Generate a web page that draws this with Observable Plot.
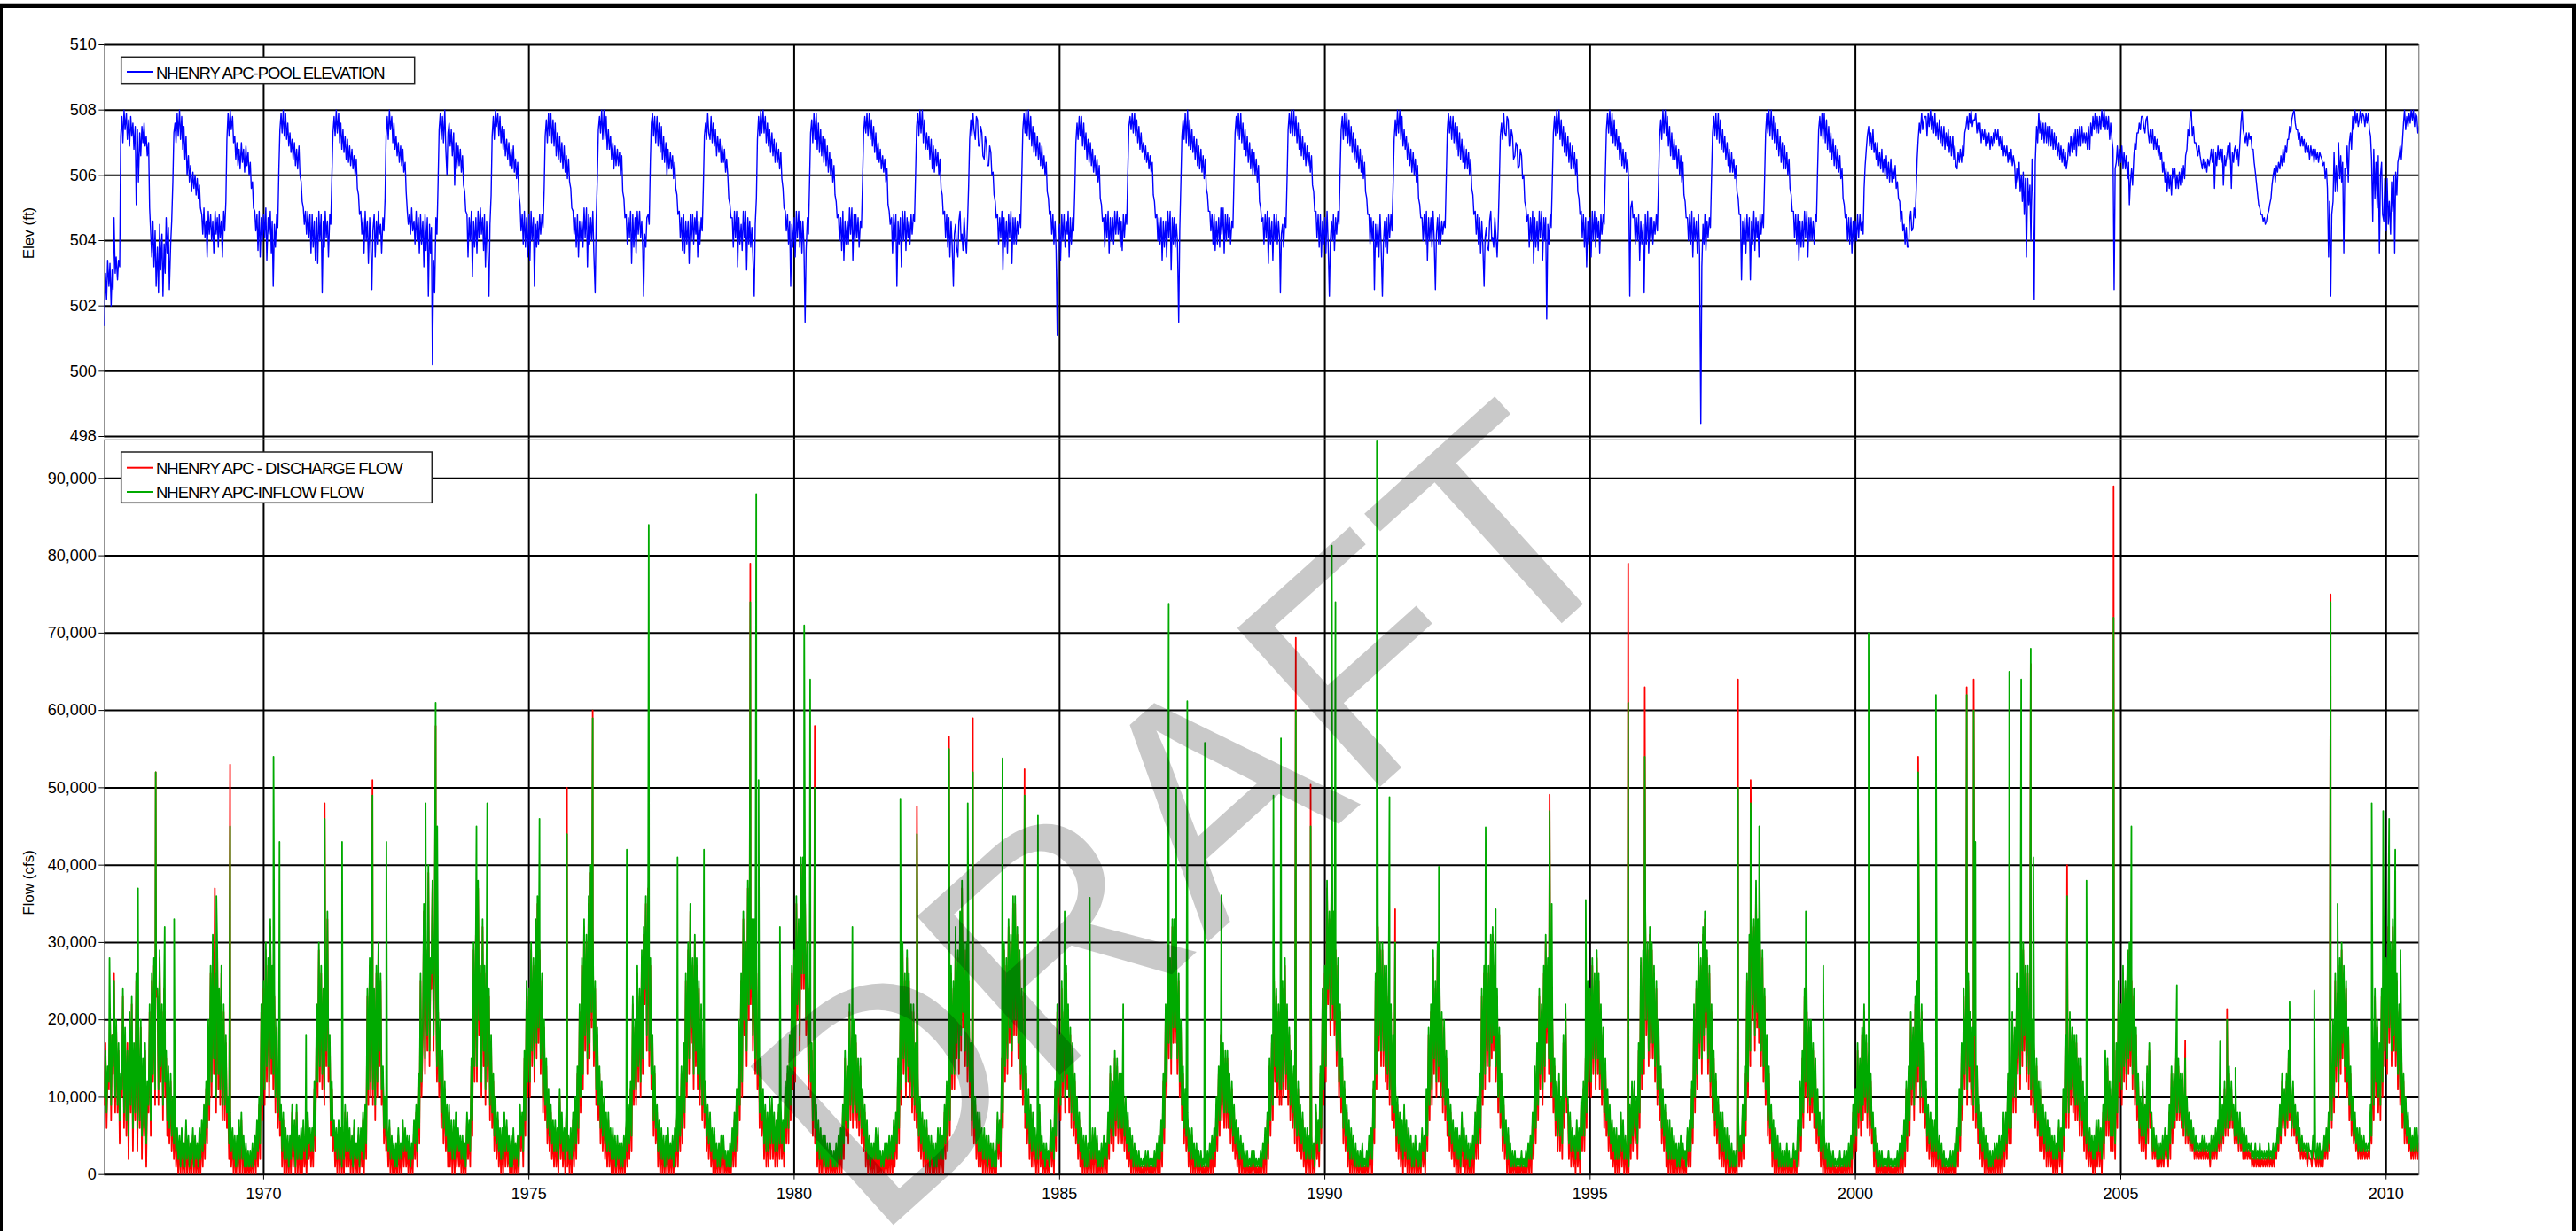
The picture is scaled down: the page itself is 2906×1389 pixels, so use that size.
<!DOCTYPE html>
<html><head><meta charset="utf-8">
<script src="https://cdn.jsdelivr.net/npm/d3@7"></script>
<script src="https://cdn.jsdelivr.net/npm/@observablehq/plot@0.6"></script>
<style>
html,body{margin:0;padding:0;background:#fff;}
body{width:2906px;height:1389px;overflow:hidden;position:relative;font-family:"Liberation Sans",Arial,sans-serif;}
#topline{position:absolute;left:0;top:3px;width:2906px;height:1px;background:#bbb;}
#frame{position:absolute;left:0;top:4px;width:2906px;height:1420px;box-sizing:border-box;border-top:5px solid #000;border-left:3px solid #000;border-right:4px solid #000;}
</style>
</head><body>
<div id="topline"></div><div id="frame"></div>
<div id="charts"></div>
<script>
// ---------------- DATA ----------------
const years = [1967,1968,1969,1970,1971,1972,1973,1974,1975,1976,1977,1978,1979,1980,1981,1982,1983,1984,1985,1986,1987,1988,1989,1990,1991,1992,1993,1994,1995,1996,1997,1998,1999,2000,2001,2002,2003,2004,2005,2006,2007,2008,2009,2010];
const yearTicks = [1970,1975,1980,1985,1990,1995,2000,2005,2010];
const elevTicks = [498,500,502,504,506,508,510];
const flowTicks = [0,10000,20000,30000,40000,50000,60000,70000,80000,90000];
const seriesNames = ["NHENRY APC-POOL ELEVATION","NHENRY APC - DISCHARGE FLOW","NHENRY APC-INFLOW FLOW"];

// Pool elevation (ft), readings on the 1st, 8th, 16th and 23rd of each month
const poolElevation = [
[501.4,503.0,502.2,503.4,502.6,503.3,502.0,503.1,502.5,504.7,503.0,503.5,502.8,503.4,503.2,507.2,507.8,507.0,508.0,507.4,507.9,507.1,507.7,506.9,507.8,507.2,507.6,506.8,507.5,505.1,507.4,505.8,507.3,506.6,507.5,507.0,507.6,506.9,507.2,506.6,507.0,505.0,504.2,503.5,504.6,503.2,504.3,502.6],
[503.8,502.4,504.5,503.1,504.2,502.3,503.9,503.0,504.7,503.6,504.4,502.5,503.9,504.6,505.8,507.3,507.6,507.0,507.9,507.2,508.0,507.1,507.8,506.8,507.5,506.5,507.2,506.0,506.6,505.8,506.3,505.5,506.1,505.6,506.0,505.4,505.9,505.3,505.7,505.0,504.8,504.2,505.0,504.1,504.6,503.5,504.9,504.2],
[504.8,504.0,504.6,503.6,504.9,504.2,504.7,503.8,504.8,504.1,504.6,503.5,504.9,504.3,505.2,507.1,507.9,507.2,508.0,507.4,507.8,507.0,507.2,506.5,507.0,506.3,506.8,506.2,507.0,506.4,506.8,506.1,506.9,506.3,506.7,506.0,506.4,505.6,505.8,505.0,504.9,504.3,504.8,503.7,504.9,503.5,504.7,504.0],
[504.8,504.1,505.0,503.4,504.7,504.2,504.9,503.6,504.6,502.6,504.5,503.8,504.8,504.4,506.2,507.4,507.9,507.3,508.0,507.2,507.9,507.1,507.6,506.9,507.3,506.7,507.1,506.5,507.0,506.3,506.8,506.2,506.9,506.0,505.8,505.2,505.0,504.5,504.9,504.2,504.9,504.1,504.8,503.6,504.8,503.8,504.6,503.4],
[504.7,503.3,504.9,504.0,504.8,502.4,504.6,503.8,504.9,504.1,504.6,503.5,504.8,504.5,506.0,507.3,507.8,507.2,508.0,507.3,507.9,507.0,507.6,506.8,507.4,506.7,507.2,506.5,507.1,506.4,506.9,506.3,506.8,506.2,506.6,506.0,506.5,505.6,505.4,504.8,504.9,504.2,504.7,503.6,504.9,504.0,504.6,503.3],
[504.7,503.9,502.5,504.3,504.8,503.5,504.6,503.9,504.9,504.2,504.5,503.6,504.7,504.3,505.3,507.2,507.8,507.1,508.0,507.4,507.8,507.0,507.6,506.8,507.2,506.6,507.0,506.4,506.9,506.3,506.8,506.1,506.4,505.5,504.9,504.5,504.8,504.2,505.0,504.3,504.6,503.9,504.9,504.0,504.7,503.6,504.8,503.9],
[504.6,503.2,504.8,503.7,504.7,502.3,504.5,503.6,504.4,500.2,503.4,502.4,504.7,504.2,505.8,507.4,507.9,507.1,507.8,507.0,508.0,506.8,506.0,507.3,507.6,506.9,507.4,506.6,507.3,505.7,507.0,506.2,506.9,506.3,506.8,506.1,506.6,505.7,505.5,504.9,504.8,503.5,504.7,504.0,504.9,502.9,504.6,503.8],
[504.7,503.6,504.9,504.1,505.0,504.2,504.7,503.7,504.8,503.2,504.6,503.9,502.3,504.5,505.4,507.2,507.8,507.1,508.0,507.5,507.9,507.2,507.8,507.0,507.5,506.8,507.4,506.6,507.1,506.5,507.0,506.3,506.8,506.2,506.9,506.1,506.5,505.9,506.4,505.5,505.1,504.3,504.8,503.9,504.9,503.8,504.7,503.5],
[504.8,503.4,504.9,504.0,504.7,502.6,504.5,503.8,504.6,503.9,504.8,504.2,504.8,504.4,505.6,507.2,507.7,507.0,507.9,507.2,507.9,507.0,507.7,506.9,507.6,506.6,507.3,506.5,507.2,506.4,507.0,506.2,506.9,506.1,506.6,505.9,506.5,505.8,505.6,505.0,504.9,504.2,504.7,503.8,504.8,503.5,504.6,504.0],
[504.6,503.8,505.0,504.1,505.0,503.2,504.8,503.9,504.7,504.0,504.9,503.6,502.4,504.6,505.9,507.4,507.8,507.3,508.0,507.1,508.0,507.1,507.8,506.8,507.4,506.8,507.2,506.5,507.0,506.2,506.9,506.3,506.8,506.3,506.7,506.0,506.6,505.5,505.3,504.7,504.8,503.9,504.7,504.1,504.9,503.3,504.8,503.8],
[504.7,503.6,504.9,504.2,504.9,504.1,504.6,503.7,502.3,504.2,503.8,504.7,504.8,504.5,506.4,507.6,507.9,507.2,507.8,507.0,507.8,506.9,507.6,506.7,507.5,506.5,507.2,506.4,507.0,506.0,506.8,506.2,506.7,506.2,506.6,505.9,506.4,505.6,505.4,504.8,504.9,504.1,504.7,503.7,504.8,503.6,504.6,503.9],
[504.6,503.3,504.8,504.0,504.8,503.9,504.7,504.2,504.9,503.5,504.6,503.9,504.7,504.3,505.7,507.2,507.6,507.1,507.9,507.3,507.1,507.8,507.0,507.6,506.9,507.4,506.6,507.2,506.7,507.1,506.4,506.9,506.4,506.8,506.1,506.5,506.0,505.3,505.1,504.7,504.7,503.8,504.9,504.1,504.9,503.2,504.7,503.9],
[504.5,503.7,504.9,504.1,504.9,503.1,504.7,503.9,504.6,503.8,504.4,503.5,502.3,504.5,505.3,507.1,507.8,507.2,508.0,507.3,508.0,507.3,507.8,507.0,507.6,506.9,507.4,506.7,507.3,506.6,507.1,506.4,507.0,506.4,506.8,506.2,506.7,505.9,505.6,505.0,504.9,504.3,504.8,503.9,504.6,502.6,504.5,503.8],
[504.7,503.5,504.9,504.1,504.9,503.8,504.6,503.6,504.6,503.9,501.5,503.7,504.7,504.2,505.8,507.3,507.7,507.0,507.9,507.1,507.9,506.8,507.6,506.7,507.4,506.6,507.2,506.4,507.1,506.3,506.9,506.1,506.7,506.0,506.5,505.8,506.3,505.4,505.2,504.7,504.8,504.0,504.7,503.7,504.9,503.4,504.6,503.9],
[504.6,503.9,505.0,504.2,505.0,503.4,504.8,504.0,504.8,504.1,504.7,503.8,504.6,504.4,505.9,507.3,507.8,507.3,507.9,507.2,507.9,507.1,507.7,506.9,507.5,506.7,507.3,506.5,507.0,506.4,506.8,506.2,506.6,506.1,506.5,505.8,506.2,505.1,504.9,504.5,504.7,503.6,504.8,504.0,504.8,502.6,504.6,503.9],
[504.7,503.2,504.9,504.0,504.9,503.7,504.7,504.1,504.6,503.9,504.8,504.2,504.8,504.6,506.1,507.5,507.9,507.2,508.0,507.3,508.0,507.0,507.7,506.8,507.3,506.8,507.2,506.5,507.1,506.2,506.9,506.1,506.8,506.3,506.7,506.0,506.5,505.6,505.4,504.8,504.9,504.1,504.8,503.8,504.7,503.5,504.6,503.9],
[502.6,504.2,504.5,503.8,503.5,504.6,504.9,504.0,504.2,503.7,504.7,504.1,503.6,504.5,505.7,507.1,507.7,507.2,507.9,507.4,507.1,507.8,507.7,506.9,506.9,507.5,507.3,506.6,506.5,507.2,507.0,506.3,506.3,506.9,506.7,506.0,506.1,505.4,505.2,504.7,504.8,503.9,504.7,504.1,504.9,503.1,504.7,503.8],
[504.6,503.6,504.8,504.1,504.9,503.3,504.7,503.9,504.7,503.9,504.6,504.2,504.8,504.4,506.0,507.4,507.9,507.3,508.0,507.2,508.0,507.1,507.8,506.9,507.5,506.7,507.3,506.6,507.2,506.5,507.0,506.3,506.9,506.2,506.6,506.0,506.4,505.5,505.3,504.8,504.9,504.2,504.8,503.9,504.6,503.7,501.1,504.2],
[504.5,503.4,504.8,504.0,504.8,503.8,504.6,504.2,504.9,503.5,504.7,503.9,504.7,504.3,505.6,507.0,507.6,507.1,507.8,507.2,507.8,506.9,507.6,506.8,507.3,506.5,507.1,506.4,507.0,506.3,506.8,506.1,506.6,506.0,506.5,505.8,506.3,505.3,505.1,504.6,504.7,503.8,504.8,504.1,504.9,503.6,504.7,504.0],
[504.7,503.9,504.9,504.2,504.9,504.2,504.7,503.8,504.6,503.7,504.8,504.1,504.8,504.5,506.2,507.5,507.8,507.4,507.9,507.3,507.9,507.2,507.7,507.0,507.5,506.8,507.3,506.7,507.0,506.5,506.9,506.4,506.7,506.2,506.6,506.1,506.4,505.4,505.2,504.7,504.8,504.0,504.7,503.9,504.7,503.4,504.6,503.8],
[504.6,503.5,504.9,504.1,504.9,503.1,504.7,503.9,504.7,503.8,504.5,504.0,501.5,504.3,505.8,507.2,507.7,507.1,507.9,507.0,508.0,506.9,507.7,506.8,507.4,506.7,507.2,506.5,507.1,506.3,506.9,506.2,506.8,506.1,506.6,505.9,506.5,505.6,505.4,504.9,504.9,504.3,504.8,503.9,504.8,503.7,504.6,503.9],
[504.7,503.8,505.0,504.2,505.0,503.6,504.8,504.0,504.8,504.1,504.7,503.9,504.6,504.4,506.0,507.3,507.8,507.2,507.9,507.1,507.9,507.0,507.6,506.8,507.4,506.6,507.2,506.4,507.0,506.2,506.8,506.0,506.7,506.0,506.5,505.8,506.3,505.2,505.0,504.6,504.7,503.9,504.8,504.1,504.9,503.3,504.7,503.9],
[504.6,503.4,504.8,504.0,504.8,503.9,504.6,504.1,502.4,504.2,504.5,503.8,504.7,504.4,505.9,507.4,507.9,507.3,508.0,507.2,508.0,507.2,507.8,507.0,507.6,506.8,507.4,506.6,507.2,506.5,507.0,506.3,506.9,506.3,506.7,506.1,506.6,505.7,505.5,504.9,504.9,504.1,504.8,503.8,504.8,503.5,504.6,503.9],
[504.7,503.6,504.9,504.0,502.3,504.0,504.6,504.0,504.8,503.7,504.7,504.2,504.9,504.5,506.1,507.4,507.8,507.1,507.9,507.2,507.9,507.0,507.7,506.9,507.5,506.7,507.3,506.5,507.1,506.4,506.9,506.2,506.8,506.1,506.6,505.9,506.4,505.5,505.3,504.8,504.8,503.9,504.7,504.0,504.6,502.5,504.5,503.8],
[504.5,503.5,504.8,503.9,502.3,503.9,504.6,503.8,504.7,503.6,504.8,504.1,504.8,504.3,505.7,507.1,507.7,507.2,508.0,507.3,508.0,507.1,507.8,506.9,507.4,506.8,507.2,506.5,507.0,506.3,506.8,506.1,506.7,506.0,506.5,505.8,506.3,505.3,505.1,504.7,504.7,504.0,504.8,503.9,504.9,503.4,504.7,504.0],
[504.7,503.8,504.9,504.1,502.5,504.2,504.7,503.9,504.8,503.9,504.6,504.2,504.6,504.4,506.0,507.4,507.9,507.3,507.8,507.1,507.8,507.0,507.6,506.8,507.5,506.6,507.3,506.5,507.1,506.4,506.9,506.2,506.8,506.2,506.7,506.0,506.5,505.6,505.4,504.8,504.9,504.2,504.8,503.9,504.7,503.6,504.6,503.9],
[502.6,504.1,504.4,503.8,503.7,504.6,504.9,504.0,504.1,503.8,504.7,504.2,503.5,504.4,505.8,507.2,507.6,507.1,507.9,507.3,507.2,507.8,507.7,506.9,506.9,507.4,507.2,506.5,506.6,507.0,506.9,506.2,506.3,506.8,506.6,505.9,506.0,505.2,505.0,504.6,504.8,503.8,504.7,504.0,504.9,503.3,504.7,503.8],
[504.6,503.7,504.9,504.1,504.9,503.4,504.7,504.0,504.7,501.6,504.5,503.9,504.8,504.4,505.9,507.3,507.8,507.2,508.0,507.3,508.0,507.1,507.7,506.9,507.5,506.7,507.3,506.6,507.2,506.4,507.0,506.2,506.9,506.2,506.7,506.0,506.5,505.5,505.3,504.8,504.9,504.1,504.8,503.8,504.7,503.2,504.6,503.9],
[504.7,503.5,504.9,504.0,504.9,503.8,504.7,504.1,504.6,503.6,504.8,504.2,504.8,504.5,506.1,507.4,507.9,507.3,508.0,507.2,507.9,507.0,507.7,506.9,507.4,506.8,507.2,506.5,507.0,506.3,506.8,506.2,506.7,506.1,506.5,505.8,502.3,505.0,505.2,504.7,504.8,503.9,504.7,504.0,504.8,503.4,504.6,503.9],
[504.5,502.4,504.8,503.9,504.9,503.6,504.7,504.0,504.7,503.9,504.6,504.2,504.8,504.3,505.8,507.2,507.7,507.1,508.0,507.3,508.0,507.2,507.8,506.9,507.5,506.6,507.3,506.5,507.1,506.5,506.9,506.2,506.8,506.0,506.6,505.8,506.4,505.4,505.2,504.7,504.7,504.0,504.8,503.9,504.9,503.5,504.7,504.0],
[504.6,503.6,504.8,503.7,498.4,503.2,504.5,503.9,504.8,503.7,504.6,504.1,504.7,504.4,506.0,507.3,507.8,507.2,507.9,507.1,507.9,507.0,507.7,506.8,507.4,506.7,507.2,506.5,507.0,506.3,506.8,506.1,506.7,506.1,506.5,505.9,506.3,505.5,505.3,504.8,504.8,502.8,504.6,503.9,504.7,503.6,504.8,504.0],
[504.7,502.8,504.6,503.9,504.9,503.7,504.7,504.1,504.6,503.5,504.8,504.2,504.8,504.4,505.9,507.3,507.9,507.3,508.0,507.2,508.0,507.1,507.8,507.0,507.6,506.8,507.4,506.6,507.2,506.4,507.0,506.2,506.9,506.2,506.7,506.0,506.5,505.6,505.4,504.9,504.9,504.1,504.8,503.9,504.8,503.4,504.6,503.8],
[504.6,503.8,504.9,504.1,504.9,503.5,504.7,504.0,504.7,504.0,504.6,503.9,504.8,504.6,506.2,507.4,507.8,507.2,507.9,507.1,507.9,507.0,507.7,506.8,507.5,506.7,507.3,506.5,507.1,506.3,506.9,506.2,506.8,506.1,506.6,505.9,506.2,505.3,505.1,504.7,504.8,504.0,504.7,503.9,504.7,503.6,504.6,503.9],
[504.6,504.0,504.8,504.1,504.8,504.3,504.6,504.2,505.6,506.3,506.8,507.2,507.5,506.9,507.3,506.8,507.4,506.7,507.0,506.5,507.0,506.3,506.7,506.2,506.8,506.1,506.5,506.0,506.6,505.9,506.4,505.8,506.5,505.8,506.2,505.9,506.3,505.6,505.8,505.3,505.2,504.6,504.9,504.3,504.5,503.9,504.4,503.8],
[503.8,504.6,504.9,504.3,504.4,505.0,504.7,505.6,506.5,507.1,507.6,507.3,507.9,507.4,507.7,507.8,507.8,507.2,507.9,507.5,508.0,507.4,507.8,507.3,507.9,507.2,507.6,507.1,507.7,507.0,507.5,506.9,507.5,506.8,507.3,506.9,507.4,506.7,507.2,506.6,507.2,506.5,506.9,506.3,506.2,506.7,506.4,506.8],
[506.4,506.9,506.6,507.3,507.5,507.8,507.4,507.9,507.6,508.0,507.5,507.7,507.7,507.9,507.3,507.6,507.3,507.6,507.0,507.4,507.1,507.4,506.9,507.3,507.0,507.3,506.8,507.2,506.9,507.3,507.0,507.4,507.1,507.4,506.9,507.2,506.8,507.2,506.6,506.9,506.6,506.9,506.4,506.7,506.4,506.8,506.3,506.6],
[506.3,505.6,506.2,505.8,506.4,505.5,506.0,505.2,506.1,504.8,505.9,503.5,505.9,505.1,505.7,504.0,506.5,505.3,502.2,506.4,507.5,507.0,507.9,507.3,507.7,507.1,507.6,507.0,507.6,507.0,507.5,506.9,507.5,506.9,507.4,506.8,507.3,506.8,507.2,506.6,507.0,506.5,506.9,506.4,506.8,506.3,506.7,506.2],
[506.5,507.0,506.6,507.2,506.7,507.3,506.8,507.4,506.6,507.4,506.9,507.5,506.9,507.5,507.0,507.3,507.0,507.3,506.8,507.5,506.8,507.6,507.2,507.8,507.4,507.9,507.3,507.8,507.3,507.8,507.4,508.0,507.5,508.0,507.4,507.8,507.4,507.8,507.1,507.6,507.1,506.8,502.5,506.2,506.4,506.9,506.3,506.8],
[506.4,506.9,506.2,506.7,506.2,506.6,505.9,506.4,505.1,505.8,506.2,505.7,506.6,507.0,506.8,507.3,507.3,507.6,507.4,507.8,507.8,507.5,507.3,507.7,507.8,507.3,507.0,507.4,507.0,507.4,506.8,507.2,506.8,507.1,506.6,506.9,506.5,506.7,506.1,506.4,505.8,506.2,505.5,506.1,505.6,506.0,505.4,506.2],
[505.9,506.2,505.6,506.0,505.6,506.1,505.7,506.2,505.8,506.3,505.9,506.6,506.8,507.4,507.2,507.8,508.0,507.2,507.5,507.0,507.0,506.8,506.6,506.9,506.6,506.4,506.2,506.5,506.2,506.4,506.1,506.5,506.3,506.5,506.8,506.4,506.8,505.6,506.7,506.3,506.9,506.5,506.8,506.4,506.8,505.7,506.6,506.3],
[506.6,506.9,506.5,507.0,505.6,506.7,506.4,506.8,506.9,506.5,506.8,506.3,507.0,507.6,508.0,507.4,507.2,507.0,507.3,506.9,507.3,507.1,507.2,506.8,506.8,506.4,506.1,505.8,505.4,505.1,505.0,504.8,504.8,504.6,504.7,504.5,504.6,504.8,504.9,505.1,505.3,505.7,506.0,506.2,505.8,506.3,506.1,506.4],
[506.2,506.6,506.3,506.8,506.4,506.9,506.7,507.1,507.1,507.5,507.3,507.7,507.9,508.0,507.6,507.4,507.4,507.1,507.3,506.9,507.2,506.9,507.1,506.7,507.0,506.7,506.9,506.5,506.9,506.6,506.8,506.4,506.8,506.5,506.7,506.4,506.7,506.6,506.5,506.3,506.4,505.9,506.2,505.6,503.5,505.2,502.3,504.8],
[505.2,506.7,505.5,506.3,505.5,507.0,505.9,506.6,505.8,506.4,503.6,506.2,506.2,506.9,505.8,507.0,507.3,506.8,507.8,507.4,508.0,507.6,507.9,507.5,507.7,508.0,507.6,507.9,507.8,507.5,507.9,507.6,507.9,507.4,507.2,506.5,504.6,506.8,505.3,506.4,505.0,506.6,503.6,506.0,506.4,504.8,504.6,505.9],
[504.3,505.9,504.5,505.2,504.2,505.8,504.9,506.0,503.6,506.1,505.4,506.4,506.6,506.9,506.5,507.0,507.6,508.0,507.4,507.8,507.5,507.9,507.6,508.0,507.7,508.0,507.5,507.9,507.8,507.3,507.5,507.3]
];

// Inflow (thousand cfs), readings on the 1st, 8th, 16th and 23rd of each month
const inflowKcfs = [
[10,16,8,14,12,22,9,18,14,25,10,20,9,17,7,13,11,24,8,19,7,16,5,21,9,23,6,17,8,26,6,18,7,20,5,15,6,17,4,12,9,22,7,26,13,28,11,24],
[24,11,29,14,22,9,25,12,16,7,14,6,13,5,10,4,8,3,6,2,5,1,6,2,4,1,7,2,5,1,4,2,6,1,5,2,4,1,6,2,7,3,9,4,12,6,20,9],
[27,12,31,15,26,10,29,13,24,11,27,9,22,9,18,8,10,4,8,3,6,2,5,1,5,1,7,2,8,2,5,1,4,1,3,1,3,1,4,1,5,2,7,3,10,4,22,9],
[25,11,30,14,28,12,33,15,27,13,24,10,20,8,14,7,9,3,8,2,6,2,5,1,5,2,9,3,7,1,9,2,5,2,6,2,7,3,5,2,8,4,6,3,6,3,12,5],
[22,12,30,14,27,13,24,11,28,16,34,14,18,7,12,5,7,3,6,2,7,2,6,1,5,2,9,3,8,3,6,2,5,1,7,2,4,2,6,1,6,3,8,2,9,4,24,11],
[28,12,25,11,24,9,27,12,30,16,26,11,14,6,10,5,6,3,7,2,5,2,4,1,4,1,6,2,4,2,7,3,6,3,5,2,5,1,4,2,7,4,9,3,13,6,26,12],
[20,35,15,30,18,40,16,28,26,38,18,32,26,14,22,12,20,8,16,6,12,5,9,3,9,3,7,2,7,2,8,3,6,3,5,2,5,2,4,1,8,4,7,3,15,7,30,14],
[32,14,38,20,27,12,33,16,27,11,30,14,24,9,18,8,13,5,10,4,8,3,6,2,6,2,8,3,7,3,5,1,5,1,6,2,4,2,5,1,9,5,8,3,16,7,25,12],
[24,12,30,16,28,14,33,17,36,19,30,15,26,10,20,9,15,6,11,5,9,4,7,3,7,3,6,2,11,4,8,3,6,2,9,3,5,2,6,2,8,3,10,4,14,6,22,10],
[28,13,33,18,31,15,36,17,40,21,32,16,25,11,19,9,14,6,12,5,10,4,8,3,8,3,6,2,6,2,5,1,5,2,4,1,4,1,5,2,7,3,9,4,12,5,23,11],
[20,11,27,14,24,12,29,15,32,24,36,18,38,16,28,13,18,7,14,6,9,3,7,2,6,2,5,1,5,1,6,2,4,2,5,1,6,3,8,3,10,5,14,6,17,8,26,12],
[30,15,35,19,28,13,31,16,28,13,25,11,22,9,17,8,12,5,9,4,8,3,6,2,6,2,4,1,4,1,5,2,5,2,3,1,3,1,4,1,6,3,8,3,11,5,20,9],
[26,12,34,20,30,16,38,22,38,24,33,18,33,15,27,13,19,8,15,7,11,4,9,3,8,3,10,4,10,4,8,3,7,3,9,4,9,4,7,3,12,6,14,6,18,9,27,13],
[29,14,36,22,33,18,41,26,41,26,36,20,30,13,25,12,17,7,14,6,9,3,7,2,6,2,5,1,5,1,4,1,4,2,3,1,3,1,4,1,5,2,6,2,9,4,16,7],
[14,6,22,9,18,8,20,9,18,8,15,7,15,6,11,5,9,3,7,2,5,1,4,2,4,2,6,2,6,2,3,1,3,1,4,2,4,2,5,2,5,2,7,3,8,4,15,6],
[21,11,30,15,26,12,29,14,26,12,22,10,22,9,17,8,13,5,10,4,8,3,7,2,7,2,5,1,5,2,4,1,4,1,6,2,6,2,5,2,9,4,12,5,15,7,27,13],
[25,13,32,17,29,15,34,18,38,21,30,16,30,14,26,12,17,7,14,6,10,4,8,3,8,3,6,2,6,2,5,1,5,2,4,1,4,1,3,1,8,4,7,3,16,8,30,14],
[28,15,33,19,31,16,36,20,36,20,32,17,29,13,24,11,18,8,14,6,11,4,9,3,8,3,6,2,6,2,9,3,5,2,4,1,4,2,3,1,7,3,6,2,12,5,22,10],
[18,9,25,12,22,10,27,13,22,10,19,8,17,7,13,6,10,4,8,3,6,2,5,1,5,1,4,1,4,2,6,2,6,2,5,1,3,1,4,1,5,2,4,2,8,4,14,6],
[12,5,16,7,15,6,13,6,13,6,11,5,10,4,8,3,6,2,5,1,4,1,3,1,3,1,2,1,2,1,3,1,3,1,2,1,2,1,3,1,4,2,5,2,7,3,13,6],
[22,12,30,17,28,15,33,19,33,19,28,15,26,12,20,9,14,6,11,5,8,3,6,2,6,2,4,1,4,1,3,1,3,1,2,1,2,1,3,1,4,2,5,2,6,3,10,5],
[14,7,19,9,17,8,16,8,16,8,13,6,12,5,9,4,7,3,6,2,5,2,4,1,3,1,3,1,2,1,3,1,3,1,2,1,2,1,3,1,4,2,6,2,8,4,15,7],
[18,9,26,14,24,12,22,11,22,11,25,12,28,13,22,11,19,9,16,8,14,6,12,5,12,5,9,4,8,3,6,2,6,2,5,2,5,2,4,1,9,4,7,3,14,6,24,11],
[27,14,38,24,34,20,40,22,34,20,30,16,28,12,22,10,15,6,12,5,9,3,7,2,6,2,5,1,4,1,3,1,3,1,4,1,2,1,3,1,5,2,6,2,12,6,26,13],
[33,18,30,16,30,16,27,14,27,13,24,11,22,9,18,8,12,5,10,4,8,3,7,2,9,3,7,2,6,2,5,1,4,1,5,2,3,1,4,1,6,3,5,2,11,5,19,9],
[22,11,29,15,25,12,30,14,25,12,21,10,20,9,16,7,11,5,9,4,7,3,6,2,6,2,5,1,8,3,6,2,5,2,4,1,4,2,5,2,8,4,10,4,13,6,24,11],
[27,13,30,16,27,14,31,17,32,18,28,14,24,10,19,8,13,5,10,4,7,2,6,2,4,1,3,1,3,1,2,1,2,1,3,1,2,1,3,1,4,2,5,2,8,4,14,6],
[17,9,24,13,22,11,27,14,31,19,28,15,26,12,21,10,15,7,12,5,13,5,10,4,18,8,22,10,10,4,8,3,6,3,5,2,7,3,6,2,10,5,12,5,16,8,25,12],
[24,12,28,15,26,13,29,15,26,13,22,11,19,8,15,7,11,5,9,4,7,3,6,2,6,2,5,2,8,3,7,2,5,2,4,1,9,4,12,5,12,6,10,4,17,8,28,13],
[29,15,34,20,30,16,32,17,30,17,27,14,25,11,20,9,14,6,11,5,9,3,7,2,7,2,6,2,5,2,4,1,4,1,5,2,4,2,3,1,6,3,7,3,12,6,22,10],
[25,13,30,17,28,15,32,18,34,21,29,15,27,12,22,10,16,7,13,6,10,4,8,3,8,3,6,2,6,2,5,1,4,1,3,1,3,1,8,3,5,3,9,4,14,7,26,12],
[31,16,36,22,33,18,38,21,33,19,30,16,29,14,24,11,18,7,14,6,9,3,7,2,6,2,5,1,4,1,3,1,3,1,4,1,3,1,2,1,4,2,3,1,7,3,12,5],
[16,8,24,12,22,10,20,9,20,10,17,8,15,6,11,5,8,3,7,2,5,2,4,1,4,1,3,1,3,1,2,1,2,1,3,1,2,1,3,1,3,1,4,1,5,2,9,4],
[11,5,17,8,15,7,19,9,22,10,18,8,16,7,13,6,8,3,6,2,4,1,3,1,3,1,2,1,2,1,3,1,2,1,2,1,2,1,3,1,4,2,5,2,7,3,12,5],
[14,7,21,11,19,9,23,12,25,14,21,10,22,10,17,8,12,5,9,4,8,3,7,3,7,3,6,2,5,2,4,1,3,1,2,1,2,1,3,1,3,1,4,1,6,3,11,5],
[17,9,24,13,22,11,26,14,21,11,19,9,18,8,14,6,10,4,8,3,6,2,5,2,4,1,3,1,3,1,4,2,4,2,5,2,5,2,8,3,8,4,13,6,13,6,21,10],
[19,10,26,15,24,13,30,16,30,18,27,14,27,13,22,11,20,10,17,8,15,7,12,5,12,5,9,4,8,3,7,3,6,3,5,2,5,2,4,2,7,3,6,2,11,5,18,8],
[16,8,21,11,19,10,18,9,18,9,15,7,15,7,12,5,10,4,8,3,6,3,5,2,5,2,7,3,7,3,6,2,9,4,16,7,15,7,12,5,12,5,10,4,17,8,25,12],
[22,11,27,14,25,13,29,15,30,16,26,13,24,11,19,9,13,6,10,5,12,5,9,4,14,6,17,8,8,3,6,3,5,2,4,2,4,2,5,2,6,3,5,2,9,4,14,6],
[13,7,16,8,15,8,13,7,13,6,11,5,10,5,8,4,7,4,6,3,5,3,4,3,4,3,5,3,5,3,4,3,4,2,5,3,5,3,6,3,7,4,8,4,9,5,12,6],
[11,6,14,7,12,7,9,5,9,5,8,4,8,4,6,3,6,3,5,3,4,3,4,2,3,2,4,2,3,2,4,2,3,2,3,2,3,2,4,2,3,2,4,2,4,3,6,4],
[9,5,13,7,11,6,13,7,16,8,12,6,12,6,9,5,8,4,6,3,5,3,4,3,4,2,4,3,3,2,5,3,3,2,4,2,4,2,3,2,5,3,6,3,8,4,15,7],
[20,10,26,14,24,12,28,15,30,17,27,14,25,12,19,9,14,7,10,5,8,4,6,3,6,3,5,3,5,3,4,3,4,3,9,5,18,9,24,12,20,10,17,9,24,12,32,16],
[28,15,33,19,30,16,33,18,30,16,26,13,22,11,17,8,13,6,10,5,8,4,6,3,5,3,6,3,6,3,5,4]
];

// Discharge (thousand cfs), readings on the same days
const dischargeKcfs = [
[9,17,6,13,11,21,7,18,13,26,8,19,8,16,4,12,10,23,6,18,5,17,2,20,8,22,3,16,7,25,3,17,6,19,2,14,5,16,1,11,8,21,5,25,12,27,9,23],
[23,9,28,12,21,7,24,10,15,5,13,4,12,3,9,2,7,1,5,0,4,0,5,0,3,0,6,0,4,0,3,0,5,0,4,0,3,0,5,0,6,1,8,2,11,4,19,7],
[26,10,30,13,25,8,28,11,23,9,26,7,21,7,17,6,9,2,7,1,5,0,4,0,4,0,6,0,7,0,4,0,3,0,2,0,2,0,3,0,4,0,6,1,9,2,21,7],
[24,9,29,12,27,10,32,13,26,11,23,8,19,6,13,5,8,1,7,0,5,0,4,0,4,0,8,1,6,0,8,0,4,0,5,0,6,1,4,0,7,2,5,1,5,1,11,3],
[21,10,29,12,26,11,23,9,27,14,33,12,17,5,11,3,6,1,5,0,6,0,5,0,4,0,8,1,7,1,5,0,4,0,6,0,3,0,5,0,5,1,7,0,8,2,23,9],
[27,10,24,9,23,7,26,10,29,14,25,9,13,4,9,3,5,1,6,0,4,0,3,0,3,0,5,0,3,0,6,1,5,1,4,0,4,0,3,0,6,2,8,1,12,4,25,10],
[18,34,13,29,16,39,14,27,24,37,16,31,25,12,21,10,19,6,15,4,11,3,8,1,8,1,6,0,6,0,7,1,5,1,4,0,4,0,3,0,7,2,6,1,14,5,29,12],
[31,12,37,18,26,10,32,14,26,9,29,12,23,7,17,6,12,3,9,2,7,1,5,0,5,0,7,1,6,1,4,0,4,0,5,0,3,0,4,0,8,3,7,1,15,5,24,10],
[23,10,29,14,27,12,32,15,35,17,29,13,25,8,19,7,14,4,10,3,8,2,6,1,6,1,5,0,10,2,7,1,5,0,8,1,4,0,5,0,7,1,9,2,13,4,21,8],
[27,11,32,16,30,13,35,15,39,19,31,14,24,9,18,7,13,4,11,3,9,2,7,1,7,1,5,0,5,0,4,0,4,0,3,0,3,0,4,0,6,1,8,2,11,3,22,9],
[19,9,26,12,23,10,28,13,31,22,35,16,37,14,27,11,17,5,13,4,8,1,6,0,5,0,4,0,4,0,5,0,3,0,4,0,5,1,7,1,9,3,13,4,16,6,25,10],
[29,13,34,17,27,11,30,14,27,11,24,9,21,7,16,6,11,3,8,2,7,1,5,0,5,0,3,0,3,0,4,0,4,0,2,0,2,0,3,0,5,1,7,1,10,3,19,7],
[25,10,33,18,29,14,37,20,37,22,32,16,32,13,26,11,18,6,14,5,10,2,8,1,7,1,9,2,9,2,7,1,6,1,8,2,8,2,6,1,11,4,13,4,17,7,26,11],
[28,12,35,20,32,16,40,24,40,24,35,18,29,11,24,10,16,5,13,4,8,1,6,0,5,0,4,0,4,0,3,0,3,0,2,0,2,0,3,0,4,0,5,0,8,2,15,5],
[13,4,21,7,17,6,19,7,17,6,14,5,14,4,10,3,8,1,6,0,4,0,3,0,3,0,5,0,5,0,2,0,2,0,3,0,3,0,4,0,4,0,6,1,7,2,14,4],
[20,9,29,13,25,10,28,12,25,10,21,8,21,7,16,6,12,3,9,2,7,1,6,0,6,0,4,0,4,0,3,0,3,0,5,0,5,0,4,0,8,2,11,3,14,5,26,11],
[24,11,31,15,28,13,33,16,37,19,29,14,29,12,25,10,16,5,13,4,9,2,7,1,7,1,5,0,5,0,4,0,4,0,3,0,3,0,2,0,7,2,6,1,15,6,29,12],
[27,13,32,17,30,14,35,18,35,18,31,15,28,11,23,9,17,6,13,4,10,2,8,1,7,1,5,0,5,0,8,1,4,0,3,0,3,0,2,0,6,1,5,0,11,3,21,8],
[17,7,24,10,21,8,26,11,21,8,18,6,16,5,12,4,9,2,7,1,5,0,4,0,4,0,3,0,3,0,5,0,5,0,4,0,2,0,3,0,4,0,3,0,7,2,13,4],
[11,3,15,5,14,4,12,4,12,4,10,3,9,2,7,1,5,0,4,0,3,0,2,0,2,0,1,0,1,0,2,0,2,0,1,0,1,0,2,0,3,0,4,0,6,1,12,4],
[21,10,29,15,27,13,32,17,32,17,27,13,25,10,19,7,13,4,10,3,7,1,5,0,5,0,3,0,3,0,2,0,2,0,1,0,1,0,2,0,3,0,4,0,5,1,9,3],
[13,5,18,7,16,6,15,6,15,6,12,4,11,3,8,2,6,1,5,0,4,0,3,0,2,0,2,0,1,0,2,0,2,0,1,0,1,0,2,0,3,0,5,0,7,2,14,5],
[17,7,25,12,23,10,21,9,21,9,24,10,27,11,21,9,18,7,15,6,13,4,11,3,11,3,8,2,7,1,5,0,5,0,4,0,4,0,3,0,8,2,6,1,13,4,23,9],
[26,12,37,22,33,18,39,20,33,18,29,14,27,10,21,8,14,4,11,3,8,1,6,0,5,0,4,0,3,0,2,0,2,0,3,0,1,0,2,0,4,0,5,0,11,4,25,11],
[32,16,29,14,29,14,26,12,26,11,23,9,21,7,17,6,11,3,9,2,7,1,6,0,8,1,6,0,5,0,4,0,3,0,4,0,2,0,3,0,5,1,4,0,10,3,18,7],
[21,9,28,13,24,10,29,12,24,10,20,8,19,7,15,5,10,3,8,2,6,1,5,0,5,0,4,0,7,1,5,0,4,0,3,0,3,0,4,0,7,2,9,2,12,4,23,9],
[26,11,29,14,26,12,30,15,31,16,27,12,23,8,18,6,12,3,9,2,6,0,5,0,3,0,2,0,2,0,1,0,1,0,2,0,1,0,2,0,3,0,4,0,7,2,13,4],
[16,7,23,11,21,9,26,12,30,17,27,13,25,10,20,8,14,5,11,3,12,3,9,2,17,6,21,8,9,2,7,1,5,1,4,0,6,1,5,0,9,3,11,3,15,6,24,10],
[23,10,27,13,25,11,28,13,25,11,21,9,18,6,14,5,10,3,8,2,6,1,5,0,5,0,4,0,7,1,6,0,4,0,3,0,8,2,11,3,11,4,9,2,16,6,27,11],
[28,13,33,18,29,14,31,15,29,15,26,12,24,9,19,7,13,4,10,3,8,1,6,0,6,0,5,0,4,0,3,0,3,0,4,0,3,0,2,0,5,1,6,1,11,4,21,8],
[24,11,29,15,27,13,31,16,33,19,28,13,26,10,21,8,15,5,12,4,9,2,7,1,7,1,5,0,5,0,4,0,3,0,2,0,2,0,7,1,4,1,8,2,13,5,25,10],
[30,14,35,20,32,16,37,19,32,17,29,14,28,12,23,9,17,5,13,4,8,1,6,0,5,0,4,0,3,0,2,0,2,0,3,0,2,0,1,0,3,0,2,0,6,1,11,3],
[15,6,23,10,21,8,19,7,19,8,16,6,14,4,10,3,7,1,6,0,4,0,3,0,3,0,2,0,2,0,1,0,1,0,2,0,1,0,2,0,2,0,3,0,4,0,8,2],
[10,3,16,6,14,5,18,7,21,8,17,6,15,5,12,4,7,1,5,0,3,0,2,0,2,0,1,0,1,0,2,0,1,0,1,0,1,0,2,0,3,0,4,0,6,1,11,3],
[13,5,20,9,18,7,22,10,24,12,20,8,21,8,16,6,11,3,8,2,7,1,6,1,6,1,5,0,4,0,3,0,2,0,1,0,1,0,2,0,2,0,3,0,5,1,10,3],
[16,7,23,11,21,9,25,12,20,9,18,7,17,6,13,4,9,2,7,1,5,0,4,0,3,0,2,0,2,0,3,0,3,0,4,0,4,0,7,1,7,2,12,4,12,4,20,8],
[18,8,25,13,23,11,29,14,29,16,26,12,26,11,21,9,19,8,16,6,14,5,11,3,11,3,8,2,7,1,6,1,5,1,4,0,4,0,3,0,6,1,5,0,10,3,17,6],
[15,6,20,9,18,8,17,7,17,7,14,5,14,5,11,3,9,2,7,1,5,1,4,0,4,0,6,1,6,1,5,0,8,2,15,5,14,5,11,3,11,3,9,2,16,6,24,10],
[21,9,26,12,24,11,28,13,29,14,25,11,23,9,18,7,12,4,9,3,11,3,8,2,13,4,16,6,7,2,5,2,4,1,3,1,3,1,4,1,5,2,4,1,8,2,13,4],
[12,6,15,7,14,7,12,6,12,5,10,4,9,4,7,3,6,3,5,2,4,2,3,2,3,2,4,2,4,2,3,2,3,1,4,2,4,2,5,2,6,3,7,3,8,4,11,5],
[10,5,13,6,11,6,8,4,8,4,7,3,7,3,5,2,5,2,4,2,3,2,3,1,2,1,3,1,2,1,3,1,2,1,2,1,2,1,3,1,2,1,3,1,3,2,5,3],
[8,4,12,6,10,5,12,6,15,7,11,5,11,5,8,4,7,3,5,2,4,2,3,2,3,1,3,2,2,1,4,2,2,1,3,1,3,1,2,1,4,2,5,2,7,3,14,6],
[19,8,25,12,23,10,27,13,29,15,26,12,24,10,18,7,13,5,9,4,7,3,5,2,5,2,4,2,4,2,3,2,3,2,8,4,17,7,23,10,19,8,16,7,23,10,31,14],
[27,13,32,17,29,14,32,16,29,14,25,11,21,9,16,6,12,4,9,4,7,3,5,2,4,2,5,2,5,2,4,3]
];

// Individual flood peaks (date, thousand cfs)
const inflowPeaks = [
["1967-02-05",28],["1967-08-20",37],["1967-12-20",52],["1968-02-20",32],["1968-04-25",33],
["1969-02-10",36],["1969-05-15",45],["1970-03-10",54],["1970-04-20",43],["1970-10-20",18],
["1971-02-25",46],["1971-06-25",43],["1972-01-20",49],["1972-04-25",43],
["1973-01-20",48],["1973-03-30",61],["1973-04-10",45],["1974-01-05",45],["1974-03-20",48],
["1975-03-15",46],["1975-09-20",44],["1976-03-15",59],["1976-11-05",42],["1977-04-05",84],
["1977-10-20",41],["1978-04-20",42],["1979-03-05",74],["1979-04-15",88],["1979-05-01",51],["1979-09-25",32],
["1980-03-10",71],["1980-04-20",64],["1980-05-22",50],["1981-02-05",32],
["1982-01-01",48.6],["1982-04-25",44],["1982-12-02",55],["1983-04-10",48],["1983-05-15",52],["1983-12-05",53.8],
["1984-05-05",49],["1984-08-05",46.4],["1985-02-05",34],["1985-07-28",35.8],["1986-03-15",22],
["1987-01-22",73.8],["1987-03-15",50],["1987-05-30",61.2],["1987-09-28",55.8],["1988-01-20",36.1],
["1989-01-12",49],["1989-03-05",56.4],["1989-06-15",60],["1989-09-25",45],
["1990-02-18",81.3],["1990-03-15",74],["1990-12-25",94.8],["1991-03-22",48.8],["1991-04-30",30],
["1992-02-25",39.8],["1993-01-12",44.9],["1993-03-22",34.3],["1994-03-28",47],["1994-04-12",35],["1994-12-02",35.5],
["1995-09-20",61],["1996-01-12",54],["1997-10-15",50],["1998-01-10",48],["1998-03-10",45],
["1999-01-25",34],["1999-05-25",27],["2000-04-01",70],["2001-03-08",52],["2001-07-08",62],
["2002-02-05",62],["2002-03-25",60],["2002-04-05",43],["2002-11-25",65],["2003-02-15",64],["2003-04-22",68],["2003-05-10",41],
["2003-12-28",36],["2004-05-10",38],["2004-11-12",72],["2005-03-15",45],
["2006-01-22",24.5],["2006-03-20",15],["2006-11-15",17.2],["2007-01-02",20],["2007-03-01",13.8],
["2008-03-08",22.3],["2008-08-25",23.8],["2008-12-15",74],["2009-02-01",35],["2009-09-24",48],["2009-12-12",47],
["2010-01-22",46],["2010-03-05",42],["2010-04-10",29]
];
const dischargePeaks = [
["1967-12-20",52],["1969-01-30",37],["1969-05-15",53],["1971-02-25",48],["1972-01-20",51],["1973-03-30",58],
["1975-09-20",50],["1976-03-15",60],["1979-03-05",79],["1980-05-22",58],["1982-04-25",47.6],["1982-12-02",56.6],
["1983-05-15",59],["1984-05-05",52.4],["1989-06-15",69.4],["1989-09-25",50.4],["1991-04-30",34.3],["1994-03-28",49.1],
["1995-09-20",79],["1996-01-12",63],["1997-10-15",64],["1998-01-10",51],["2001-03-08",54],["2002-02-05",63],
["2002-03-25",64],["2003-04-22",66],["2003-12-28",40],["2004-11-12",89],["2006-03-20",17.3],["2007-01-02",21.4],
["2008-12-15",75]
];

// ---------------- BUILD ----------------
function byYear(rows, days, scale) {
  const per = days.length, out = [];
  rows.forEach((vals, i) => vals.forEach((v, j) => {
    out.push({date: new Date(Date.UTC(years[i], Math.floor(j / per), days[j % per])), value: v * scale});
  }));
  return out;
}
function withPeaks(base, peaks, scale) {
  const p = peaks.map(([d, v]) => ({date: new Date(d + "T00:00:00Z"), value: v * scale}));
  return base.concat(p).sort((a, b) => a.date - b.date);
}
const DAYS = [1, 8, 16, 23];
const elevData = byYear(poolElevation, DAYS, 1);
const inflowData = withPeaks(byYear(inflowKcfs, DAYS, 1000), inflowPeaks, 1000);
const dischargeData = withPeaks(byYear(dischargeKcfs, DAYS, 1000), dischargePeaks, 1000);

const W = 2906, H = 1389, L = 117.3, R = 2728.3;
const xDomain = [new Date(Date.UTC(1967, 0, 1)), new Date(Date.UTC(2010, 7, 15))];
const tickDates = yearTicks.map(y => new Date(Date.UTC(y, 0, 1)));
const FONT = "'Liberation Sans', Arial, sans-serif";
const baseStyle = {background: "transparent", overflow: "visible", fontFamily: FONT, fontSize: "18px", color: "#000", maxWidth: "none"};
const topTop = 50, topBottom = 492, botTop = 495.7, botBottom = 1324.7;

const elevPlot = Plot.plot({
  width: W, height: H,
  marginLeft: L, marginRight: W - R, marginTop: topTop, marginBottom: H - topBottom,
  style: baseStyle,
  x: {type: "utc", domain: xDomain, axis: null},
  y: {domain: [498, 510], ticks: elevTicks, tickSize: 6, tickPadding: 3, label: null, tickFormat: d => String(d)},
  marks: [
    Plot.frame({stroke: "#666", strokeWidth: 1}),
    Plot.ruleX(tickDates, {stroke: "#000", strokeWidth: 2, insetBottom: -(botTop - topBottom)}),
    Plot.ruleY(elevTicks, {stroke: "#000", strokeWidth: 2}),
    Plot.line(elevData, {x: "date", y: "value", stroke: "#0000ff", strokeWidth: 1.4, clip: true})
  ]
});

const flowPlot = Plot.plot({
  width: W, height: H,
  marginLeft: L, marginRight: W - R, marginTop: botTop, marginBottom: H - botBottom,
  style: baseStyle,
  x: {type: "utc", domain: xDomain, ticks: tickDates, tickFormat: d3.utcFormat("%Y"), tickSize: 6, tickPadding: 9, label: null},
  y: {domain: [0, 95000], ticks: flowTicks, tickSize: 6, tickPadding: 3, label: null, tickFormat: d3.format(",")},
  marks: [
    Plot.frame({stroke: "#666", strokeWidth: 1}),
    Plot.ruleX(tickDates, {stroke: "#000", strokeWidth: 2}),
    Plot.ruleY(flowTicks, {stroke: "#000", strokeWidth: 2}),
    Plot.line(dischargeData, {x: "date", y: "value", stroke: "#ff0000", strokeWidth: 1.8, clip: true}),
    Plot.line(inflowData, {x: "date", y: "value", stroke: "#00aa00", strokeWidth: 1.8, clip: true})
  ]
});

const holder = document.getElementById("charts");
for (const svg of [elevPlot, flowPlot]) {
  svg.style.position = "absolute"; svg.style.left = "0px"; svg.style.top = "0px";
  holder.appendChild(svg);
}

// Overlay: legends, axis titles, watermark
const NS = "http://www.w3.org/2000/svg";
const ov = document.createElementNS(NS, "svg");
ov.setAttribute("width", W); ov.setAttribute("height", H);
ov.style.position = "absolute"; ov.style.left = "0px"; ov.style.top = "0px";
ov.style.fontFamily = FONT;
function el(tag, attrs, text) {
  const e = document.createElementNS(NS, tag);
  for (const k in attrs) e.setAttribute(k, attrs[k]);
  if (text != null) e.textContent = text;
  ov.appendChild(e); return e;
}
el("rect", {x: 136.7, y: 64.3, width: 331, height: 30.4, fill: "#fff", stroke: "#222", "stroke-width": 1.5});
el("line", {x1: 143, x2: 173, y1: 81, y2: 81, stroke: "#0000ff", "stroke-width": 2});
el("text", {x: 176, y: 89.3, "font-size": 18.5, "letter-spacing": "-1px", fill: "#000"}, seriesNames[0]);
el("rect", {x: 136.7, y: 510, width: 350.6, height: 57.3, fill: "#fff", stroke: "#222", "stroke-width": 1.5});
el("line", {x1: 143, x2: 173, y1: 527.7, y2: 527.7, stroke: "#ff0000", "stroke-width": 2});
el("text", {x: 176, y: 534.6, "font-size": 18.5, "letter-spacing": "-1px", fill: "#000"}, seriesNames[1]);
el("line", {x1: 143, x2: 173, y1: 555, y2: 555, stroke: "#00aa00", "stroke-width": 2});
el("text", {x: 176, y: 562, "font-size": 18.5, "letter-spacing": "-1px", fill: "#000"}, seriesNames[2]);
el("text", {x: 38, y: 263, "font-size": 17, "text-anchor": "middle", transform: "rotate(-90 38 263)", fill: "#000"}, "Elev (ft)");
el("text", {x: 38, y: 996, "font-size": 17, "text-anchor": "middle", transform: "rotate(-90 38 996)", fill: "#000"}, "Flow (cfs)");
el("text", {x: 1336, y: 918, dy: "0.358em", "font-size": 350, "text-anchor": "middle", transform: "rotate(-42 1336 918)", fill: "#000", "fill-opacity": 0.21}, "DRAFT");
document.body.appendChild(ov);
</script>
</body></html>
